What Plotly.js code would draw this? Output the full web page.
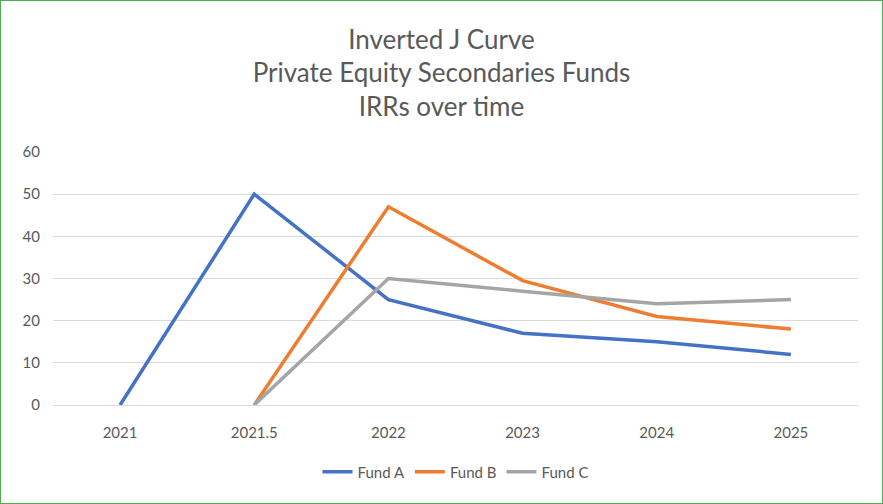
<!DOCTYPE html>
<html><head><meta charset="utf-8">
<script src="https://cdn.plot.ly/plotly-3.0.1.min.js"></script>
<style>html,body{margin:0;padding:0;background:#fff}#c{width:881px;height:502px;border:1px solid #4caf50}</style>
</head><body><div id="c"></div>
<script>
const categories = ["2021","2021.5","2022","2023","2024","2025"];
const fundA = [0,50,25,17,15,12];
const fundB = [null,0,47,29.5,21,18];
const fundC = [null,0,30,27,24,25];
const names = ["Fund A","Fund B","Fund C"];
const colors = ["#4472C4","#ED7D31","#A5A5A5"];
const series = [fundA,fundB,fundC];
const traces = series.map((s,i)=>({x:categories,y:s,name:names[i],type:"scatter",mode:"lines",
  line:{color:colors[i],width:3.5},connectgaps:false}));
Plotly.newPlot("c",traces,{
  width:881,height:502,
  font:{family:"Lato, 'Open Sans', sans-serif",color:"#595959",size:15},
  title:{text:"Inverted J Curve<br>Private Equity Secondaries Funds<br>IRRs over time",font:{size:26,color:"#595959"},x:0.5,y:0.905,yanchor:"top"},
  margin:{l:52,r:24,t:151,b:98},
  xaxis:{type:"category",range:[-0.5,5.5],showgrid:false,showline:true,linecolor:"#d9d9d9",ticks:"",tickfont:{size:15},ticklabelstandoff:14},
  yaxis:{range:[0,60],dtick:10,gridcolor:"#d9d9d9",zeroline:false,ticks:"",tickfont:{size:15},ticklabelstandoff:12},
  legend:{orientation:"h",x:0.5,xanchor:"center",y:-0.2,yanchor:"top",font:{size:15}},
  showlegend:true,plot_bgcolor:"#fff",paper_bgcolor:"#fff"
},{displayModeBar:false});
</script></body></html>
